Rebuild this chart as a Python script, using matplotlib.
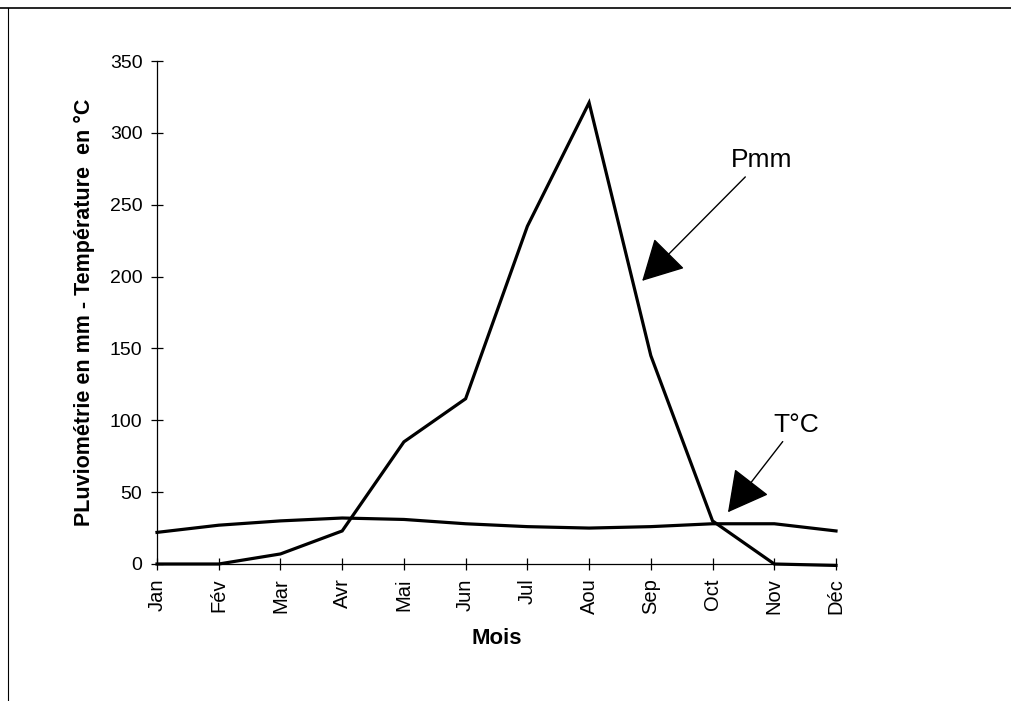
import matplotlib
matplotlib.use("Agg")
import matplotlib.pyplot as plt
from matplotlib.lines import Line2D

plt.rcParams["font.family"] = ["Liberation Sans", "DejaVu Sans"]

months = ["Jan", "Fév", "Mar", "Avr", "Mai", "Jun", "Jul", "Aou", "Sep", "Oct", "Nov", "Déc"]
pmm = [0, 0, 7, 23, 85, 115, 235, 321, 145, 30, 0, -1]
temp = [22, 27, 30, 32, 31, 28, 26, 25, 26, 28, 28, 23]
yticks = [0, 50, 100, 150, 200, 250, 300, 350]

fig = plt.figure(figsize=(10.11, 7.01), dpi=100)
ax = fig.add_axes([157 / 1011, 1 - 564 / 701, 679 / 1011, 503 / 701])

x = list(range(len(months)))
ax.plot(x, pmm, color="black", lw=2.3, solid_joinstyle="miter")
ax.plot(x, temp, color="black", lw=2.3)

ax.set_xlim(0, len(months) - 1)
ax.set_ylim(0, 350)
ax.set_yticks(yticks)
ax.set_xticks(x)
ax.set_xticklabels(months, rotation=90, fontsize=14.5)
ax.tick_params(axis="y", labelsize=14, direction="inout", length=9, width=0.9, pad=6)
ax.tick_params(axis="x", direction="inout", length=9, width=0.9, pad=6)

for s in ["top", "right"]:
    ax.spines[s].set_visible(False)
for s in ["left", "bottom"]:
    ax.spines[s].set_linewidth(0.9)
    ax.spines[s].set_clip_on(False)
for line in ax.get_lines():
    line.set_clip_on(False)

ax.set_xlabel("Mois", fontsize=16, fontweight="bold", labelpad=10)
ax.set_ylabel("PLuviométrie en mm - Température  en °C", fontsize=15.5, fontweight="bold", labelpad=11)

arrow = dict(arrowstyle="-|>,head_length=1.3,head_width=0.7", mutation_scale=20,
             color="black", lw=1.0, shrinkA=2, shrinkB=0)
ax.annotate("Pmm", xy=(7.86, 197), xytext=(9.8, 281), fontsize=19,
            ha="center", va="center", arrowprops=arrow, annotation_clip=False)
ax.annotate("T°C", xy=(9.25, 36), xytext=(10.35, 97), fontsize=19,
            ha="center", va="center", arrowprops=arrow, annotation_clip=False)

# scanned page frame
fig.add_artist(Line2D([0, 1], [1 - 8 / 701, 1 - 8 / 701], transform=fig.transFigure, color="black", lw=1.2))
fig.add_artist(Line2D([8 / 1011, 8 / 1011], [0, 1 - 8 / 701], transform=fig.transFigure, color="black", lw=0.8))

fig.savefig("out.png", dpi=100)
